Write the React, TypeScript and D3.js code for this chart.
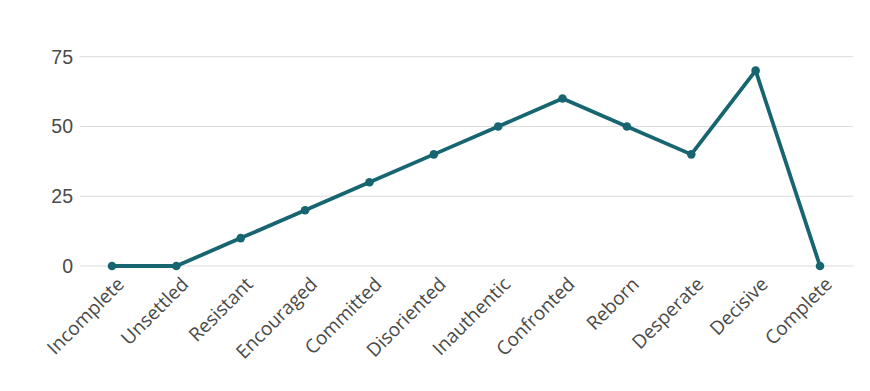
import React from "react";
import * as d3 from "d3";

const categories = ["Incomplete","Unsettled","Resistant","Encouraged","Committed","Disoriented","Inauthentic","Confronted","Reborn","Desperate","Decisive","Complete"];
const values = [0,0,10,20,30,40,50,60,50,40,70,0];
const yTicks = [0,25,50,75];

export default function App() {
  const W = 870, H = 391;
  const x = d3.scalePoint<string>().domain(categories).range([112, 820]);
  const y = d3.scaleLinear().domain([0, 75]).range([266, 56.7]);
  const line = d3.line<number>().x((_, i) => x(categories[i])!).y(d => y(d));
  const color = "#166570";
  return (
    <svg width={W} height={H} style={{ position: "absolute", left: 0, top: 0 }}>
      {yTicks.map(t => (
        <g key={t}>
          <line x1={80} x2={853} y1={y(t)} y2={y(t)} stroke="#dcdcdc" strokeWidth={1} />
          <text x={73} y={y(t)} dy="0.35em" textAnchor="end" fontFamily="Liberation Sans, Arial, sans-serif" fontSize={19.5} fill="#4a4a4a">{t}</text>
        </g>
      ))}
      <path d={line(values)!} fill="none" stroke={color} strokeWidth={3.8} strokeLinejoin="round" />
      {values.map((v, i) => (
        <circle key={i} cx={x(categories[i])} cy={y(v)} r={4.3} fill={color} />
      ))}
      {categories.map(c => (
        <text key={c} transform={`translate(${x(c)! + 4},${276}) rotate(-45)`} textAnchor="end" dy="0.7em" fontFamily="Open Sans, Noto Sans, sans-serif" fontSize={19} fill="#4a4a4a">{c}</text>
      ))}
    </svg>
  );
}
